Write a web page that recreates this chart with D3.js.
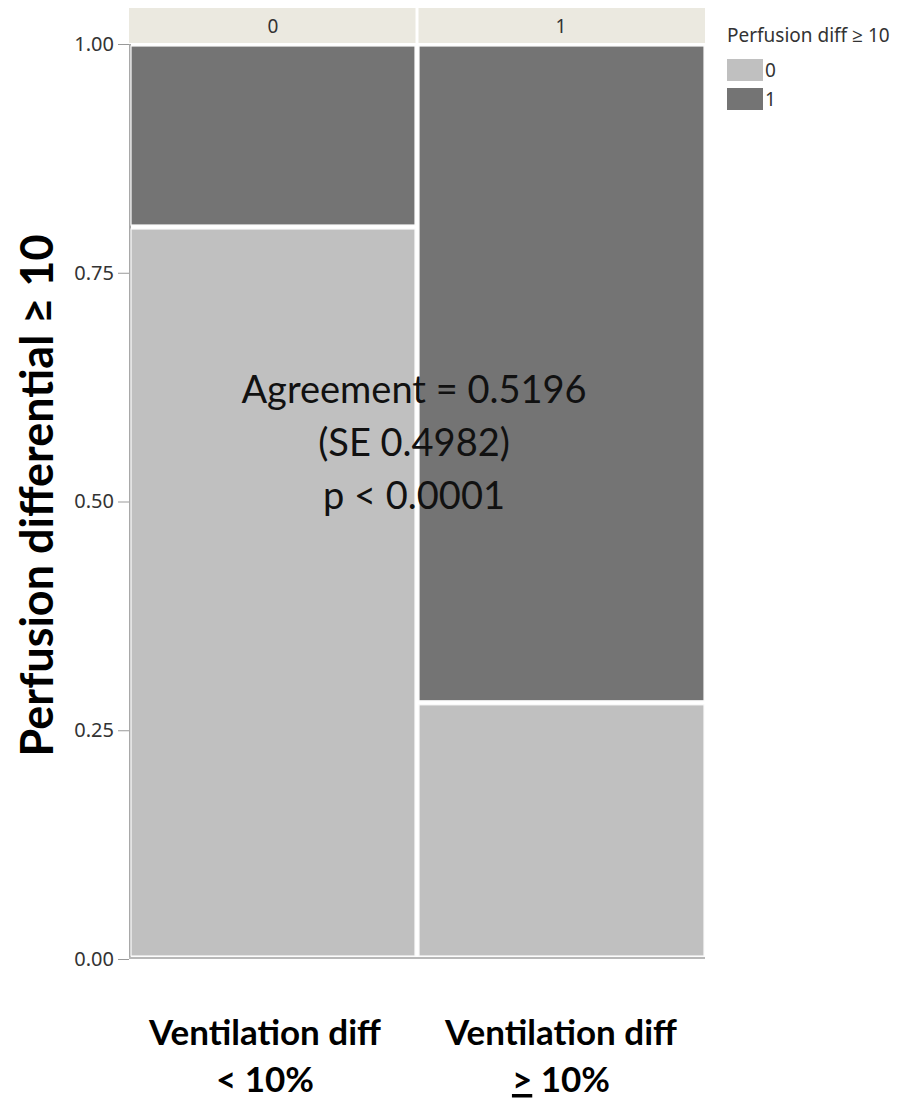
<!DOCTYPE html>
<html>
<head>
<meta charset="utf-8">
<script src="https://cdn.jsdelivr.net/npm/d3@7"></script>
<style>
  html, body { margin: 0; padding: 0; background: #fff; }
  svg { display: block; }
</style>
</head>
<body>
<svg id="chart" width="904" height="1099"></svg>
<script>
// Ventilation differential groups (x) and perfusion differential outcome (stacked)
const ventGroups = ["0", "1"];
const ventLabels = [["Ventilation diff", "< 10%"], ["Ventilation diff", "\u2265 10%"]];
const perfLevels = ["0", "1"];
const perfCount0 = [40, 14];   // Perfusion diff >= 10 : 0
const perfCount1 = [10, 36];   // Perfusion diff >= 10 : 1
const yTicks = [0, 0.25, 0.5, 0.75, 1];
const statLines = ["Agreement = 0.5196", "(SE 0.4982)", "p < 0.0001"];
const legendTitle = "Perfusion diff \u2265 10";
const yTitle = "Perfusion differential \u2265 10";

const colors = { "0": "#c0c0c0", "1": "#747474" };
const uiFont = "'Noto Sans', 'Open Sans', sans-serif";
const textFont = "Lato, sans-serif";

const svg = d3.select("#chart");
const plot = { left: 129, right: 705, top: 44, bottom: 959 };

// Column widths proportional to group totals
const totals = ventGroups.map((g, i) => perfCount0[i] + perfCount1[i]);
const grand = d3.sum(totals);
const cum = d3.cumsum([0, ...totals]);
const x = d3.scaleLinear().domain([0, grand]).range([plot.left, plot.right]);
const y = d3.scaleLinear().domain([0, 1]).range([plot.bottom, plot.top]);

// Strip header above each column
const stripTop = 8;
ventGroups.forEach((g, i) => {
  const x0 = x(cum[i]), x1 = x(cum[i + 1]);
  svg.append("rect")
    .attr("x", x0 + (i ? 1.5 : 0)).attr("y", stripTop)
    .attr("width", x1 - x0 - 1.5).attr("height", plot.top - stripTop - 1)
    .attr("fill", "#ebe9e0");
  svg.append("text")
    .attr("x", (x0 + x1) / 2).attr("y", 33)
    .attr("text-anchor", "middle")
    .attr("font-family", uiFont).attr("font-size", 19)
    .attr("fill", "#333").text(g);
});

// Plot frame (left and bottom edges)
svg.append("line").attr("x1", plot.left + 1).attr("x2", plot.left + 1)
  .attr("y1", plot.top).attr("y2", plot.bottom)
  .attr("stroke", "#a8a8a8").attr("stroke-width", 2);
svg.append("line").attr("x1", plot.left).attr("x2", plot.right)
  .attr("y1", plot.bottom - 1).attr("y2", plot.bottom - 1)
  .attr("stroke", "#b8b8b8").attr("stroke-width", 2);

// Mosaic cells
const gap = 2;
const cells = [];
ventGroups.forEach((g, i) => {
  const p0 = perfCount0[i] / totals[i];
  cells.push({ col: i, level: "0", lo: 0, hi: p0 });
  cells.push({ col: i, level: "1", lo: p0, hi: 1 });
});
svg.append("g").selectAll("rect").data(cells).join("rect")
  .attr("x", d => x(cum[d.col]) + gap)
  .attr("width", d => x(cum[d.col + 1]) - x(cum[d.col]) - (d.col ? gap + 1 : gap + 2))
  .attr("y", d => y(d.hi) + 2)
  .attr("height", d => y(d.lo) - y(d.hi) - 2 - (d.lo === 0 ? 3 : gap))
  .attr("fill", d => colors[d.level])
  .attr("stroke", "#fafafa").attr("stroke-width", 1.2);

// Y axis
const yAxis = svg.append("g").attr("transform", `translate(${plot.left},0)`)
  .call(d3.axisLeft(y).tickValues(yTicks).tickFormat(d3.format(".2f")).tickSize(11).tickPadding(4));
yAxis.select(".domain").remove();
yAxis.selectAll(".tick line").attr("stroke", "#999");
yAxis.selectAll(".tick text")
  .attr("font-family", uiFont).attr("font-size", 20).attr("fill", "#333");

// Y axis title
svg.append("text")
  .attr("transform", `translate(53,${(plot.top + plot.bottom) / 2 - 6}) rotate(-90)`)
  .attr("text-anchor", "middle")
  .attr("font-family", textFont).attr("font-weight", 700).attr("font-size", 45)
  .attr("fill", "#000").text(yTitle);

// Group labels beneath the columns
ventLabels.forEach((lines, i) => {
  const cx = (x(cum[i]) + x(cum[i + 1])) / 2 + (i ? 0 : -8);
  const t = svg.append("text")
    .attr("text-anchor", "middle")
    .attr("font-family", textFont).attr("font-weight", 700).attr("font-size", 35)
    .attr("fill", "#000");
  t.append("tspan").attr("x", cx).attr("y", 1045).text(lines[0]);
  const second = t.append("tspan").attr("x", cx).attr("y", 1092);
  if (lines[1].startsWith("\u2265")) {
    second.append("tspan").attr("text-decoration", "underline").text(">");
    second.append("tspan").text(lines[1].slice(1));
  } else {
    second.text(lines[1]);
  }
});

// Agreement statistics
statLines.forEach((s, i) => {
  svg.append("text")
    .attr("x", 414).attr("y", 403 + i * 53)
    .attr("text-anchor", "middle")
    .attr("font-family", textFont).attr("font-size", 38)
    .attr("fill", "#111").text(s);
});

// Legend
const lg = svg.append("g").attr("transform", "translate(727,0)");
lg.append("text").attr("x", 0).attr("y", 42)
  .attr("font-family", uiFont).attr("font-size", 19)
  .attr("fill", "#333").text(legendTitle);
perfLevels.forEach((lvl, i) => {
  lg.append("rect").attr("x", 0).attr("y", 59 + i * 29).attr("width", 36).attr("height", 22)
    .attr("fill", colors[lvl]);
  lg.append("text").attr("x", 38).attr("y", 77 + i * 29)
    .attr("font-family", uiFont).attr("font-size", 19)
    .attr("fill", "#333").text(lvl);
});
</script>
</body>
</html>
